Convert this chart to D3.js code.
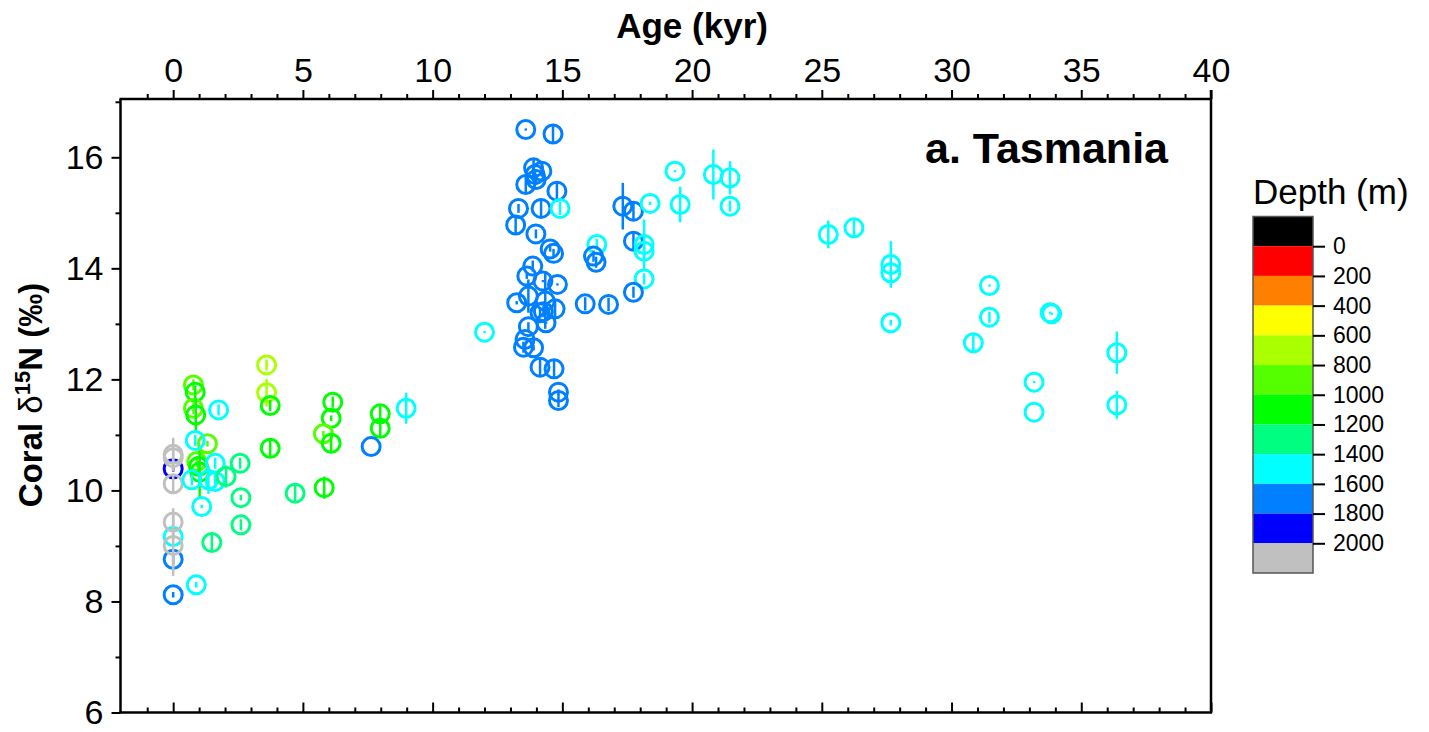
<!DOCTYPE html>
<html><head><meta charset="utf-8">
<script src="https://cdn.jsdelivr.net/npm/d3@7"></script>
<style>body{margin:0;background:#fff;} svg{display:block;} text{font-family:Arial,"Liberation Sans",sans-serif;}</style>
</head><body>
<svg id="chart" width="1429" height="732"></svg>
<script>
// ---- data ----
const ages = [
 0,0,0,0,0,0,0,0,0,
 0.78,0.85,0.78,0.87,0.91,0.98,1.02,1.32,
 1.75,0.85,0.72,1.62,1.36,1.62,1.1,0.89,
 2.04,2.58,2.61,2.61,1.49,4.7,
 3.6,3.6,3.74,3.74,6.15,6.09,5.79,6.09,5.82,7.98,7.98,7.63,8.98,
 12.0,
 13.59,14.64,13.89,14.21,13.95,13.59,13.99,14.79,13.31,14.18,
 14.91,13.2,13.98,14.53,14.66,13.86,13.63,14.25,14.81,13.69,
 13.24,14.34,14.72,14.14,14.27,14.37,13.69,13.56,13.5,13.89,
 14.14,14.68,14.85,14.85,
 17.33,17.74,18.38,17.74,18.15,18.15,18.15,17.74,16.33,16.2,16.3,15.88,16.78,
 19.34,20.82,21.46,21.46,19.54,
 25.25,26.24,27.66,27.66,27.66,31.46,31.46,33.8,33.86,30.84,33.18,33.18,36.37,36.37
];
const d15N = [
 10.39,9.17,8.76,8.12,10.65,10.59,10.12,9.43,9.01,
 11.9,11.77,11.48,11.36,10.52,10.43,10.33,10.84,
 11.45,10.9,10.19,10.49,10.19,10.16,9.71,8.3,
 10.25,10.49,9.87,9.38,9.06,9.95,
 12.26,11.76,11.53,10.76,11.59,11.3,11.02,10.85,10.05,11.38,11.12,10.79,11.48,
 12.85,
 16.5,16.42,15.81,15.75,15.69,15.51,15.6,15.39,15.08,15.08,
 15.08,14.78,14.62,14.35,14.27,14.04,13.86,13.77,13.71,13.5,
 13.38,13.41,13.27,13.2,13.22,13.02,12.95,12.72,12.58,12.57,
 12.22,12.19,11.77,11.62,
 15.12,15.03,15.17,14.49,14.43,14.31,13.81,13.57,14.43,14.22,14.11,13.36,13.35,
 15.75,15.69,15.63,15.12,15.15,
 14.61,14.73,14.07,13.92,13.02,13.69,13.12,13.2,13.18,12.66,11.95,11.41,12.48,11.54
];
const depths = [
 1900,1500,1700,1700,2100,2100,2100,2100,2100,
 900,1100,900,1100,900,1100,1100,900,
 1500,1500,1500,1500,1500,1500,1500,1500,
 1300,1300,1300,1300,1300,1300,
 700,700,1100,1100,1100,1100,900,1100,1100,1100,1100,1700,1500,
 1500,
 1700,1700,1700,1700,1700,1700,1700,1700,1700,1700,
 1500,1700,1700,1700,1700,1700,1700,1700,1700,1700,
 1700,1700,1700,1700,1700,1700,1700,1700,1700,1700,
 1700,1700,1700,1700,
 1700,1700,1500,1700,1500,1500,1500,1700,1500,1700,1700,1700,1700,
 1500,1500,1500,1500,1500,
 1500,1500,1500,1500,1500,1500,1500,1500,1500,1500,1500,1500,1500,1500
];
const errs = [
 0.05,0.05,0.1,0.05,0.3,0.1,0.15,0.25,0.55,
 0.1,0.12,0.1,0.3,0.1,0.1,0.45,0.05,
 0.1,0.1,0.1,0.1,0.25,0.12,0.03,0.05,
 0.2,0.1,0.05,0.1,0.15,0.15,
 0.1,0.25,0.1,0.15,0.1,0.05,0.05,0.15,0.2,0.16,0.16,0.0,0.28,
 0.02,
 0.02,0.15,0.15,0.1,0.1,0.15,0.1,0.16,0.08,0.16,
 0.12,0.16,0.08,0.05,0.08,0.1,0.05,0.02,0.02,0.3,
 0.03,0.5,0.15,0.1,0.1,0.02,0.08,0.02,0.1,0.05,
 0.16,0.16,0.05,0.12,
 0.42,0.16,0.03,0.16,0.45,0.1,0.1,0.1,0.1,0.1,0.1,0.12,0.12,
 0.02,0.45,0.3,0.1,0.32,
 0.25,0.16,0.42,0.05,0.05,0.02,0.1,0.02,0.02,0.16,0.02,0.0,0.38,0.25
];
const xTicks = [0,5,10,15,20,25,30,35,40];
const yTicks = [6,8,10,12,14,16];
const depthBreaks = [0,200,400,600,800,1000,1200,1400,1600,1800,2000];
const depthColors = ["#000000","#FF0000","#FF8000","#FFFF00","#AAFF00","#55FF00","#00FF00","#00FF80","#00FFFF","#0080FF","#0000FF","#C0C0C0"];

// ---- layout ----
const svg = d3.select("#chart");
const L = 120.5, R = 1211, T = 99, B = 712.5;
const x = d3.scaleLinear().domain([-2.03, 40]).range([L, R]);
const y = d3.scaleLinear().domain([6, 17.05]).range([B, T]);
const color = d3.scaleThreshold().domain(depthBreaks).range(depthColors);

const data = ages.map((a,i)=>({a, v:d15N[i], d:depths[i], e:errs[i]}));

// points
const g = svg.append("g");
data.forEach(p => {
  const c = color(p.d);
  if (p.e > 0) {
    g.append("line").attr("x1", x(p.a)).attr("x2", x(p.a))
      .attr("y1", y(p.v - p.e)).attr("y2", y(p.v + p.e))
      .attr("stroke", c).attr("stroke-width", 2.5);
  }
  g.append("circle").attr("cx", x(p.a)).attr("cy", y(p.v)).attr("r", 9)
    .attr("fill", "none").attr("stroke", c).attr("stroke-width", 3);
});

// axes
const fontTick = "34px";
const minorX = d3.range(-1, 41, 1).filter(v => v % 5 !== 0);
const minorY = d3.range(7, 17.01, 2);

const axTop = svg.append("g").attr("transform", `translate(0,${T})`)
  .call(d3.axisTop(x).tickValues(xTicks).tickSize(9).tickPadding(8).tickFormat(d3.format("d")));
const axTopMinor = svg.append("g").attr("transform", `translate(0,${T})`)
  .call(d3.axisTop(x).tickValues(minorX).tickSize(5).tickFormat(""));
const axBot = svg.append("g").attr("transform", `translate(0,${B})`)
  .call(d3.axisBottom(x).tickValues(xTicks).tickSize(-10).tickFormat(""));
const axBotMinor = svg.append("g").attr("transform", `translate(0,${B})`)
  .call(d3.axisBottom(x).tickValues(minorX).tickSize(-5).tickFormat(""));
const axLeft = svg.append("g").attr("transform", `translate(${L},0)`)
  .call(d3.axisLeft(y).tickValues(yTicks).tickSize(9).tickPadding(8).tickFormat(d3.format("d")));
const axLeftMinor = svg.append("g").attr("transform", `translate(${L},0)`)
  .call(d3.axisLeft(y).tickValues(minorY).tickSize(5).tickFormat(""));

const axes = [axTop, axTopMinor, axBot, axBotMinor, axLeft, axLeftMinor];
axes.forEach(a => {
  a.select(".domain").remove();
  a.selectAll(".tick line").attr("stroke", "#000").attr("stroke-width", 2);
  a.selectAll(".tick text").attr("fill", "#000").style("font-size", fontTick)
   .style("font-family", "Arial, 'Liberation Sans', sans-serif");
});
svg.append("g").selectAll("line").data([
  [L-1, T, R+1, T], [L-1, B, R+1, B], [L, T, L, B], [R, T-9, R, B]
]).join("line").attr("x1", d=>d[0]).attr("y1", d=>d[1]).attr("x2", d=>d[2]).attr("y2", d=>d[3])
  .attr("stroke", "#000").attr("stroke-width", 2.5);

// axis titles
svg.append("text").attr("x", x(20)).attr("y", 38).attr("text-anchor", "middle")
  .style("font-size", "35px").style("font-weight", "bold").text("Age (kyr)");
const yl = svg.append("text").attr("transform", `translate(42,395) rotate(-90)`)
  .attr("text-anchor", "middle").style("font-size", "33px").style("font-weight", "bold");
yl.append("tspan").text("Coral ");
yl.append("tspan").style("font-weight", "normal").text("δ");
yl.append("tspan").attr("dy", -12).style("font-size", "22px").text("15");
yl.append("tspan").attr("dy", 12).text("N (‰)");

// panel label
svg.append("text").attr("x", 1168).attr("y", 163).attr("text-anchor", "end")
  .style("font-size", "43px").style("font-weight", "bold").text("a. Tasmania");

// colour bar legend
const cbX = 1253, cbW = 60;
const cy = d3.scaleLinear().domain([-200, 2200]).range([216.5, 573]);
const bands = depthColors.map((c, i) => ({c, lo: i === 0 ? -200 : depthBreaks[i-1], hi: i < depthBreaks.length ? depthBreaks[i] : 2200}));
const leg = svg.append("g");
leg.selectAll("rect.band").data(bands).join("rect").attr("class","band")
  .attr("x", cbX).attr("width", cbW).attr("y", d => cy(d.lo)).attr("height", d => cy(d.hi) - cy(d.lo))
  .attr("fill", d => d.c);
leg.append("rect").attr("x", cbX).attr("y", cy(-200)).attr("width", cbW).attr("height", cy(2200)-cy(-200))
  .attr("fill", "none").attr("stroke", "#555").attr("stroke-width", 1.5);
const lax = leg.append("g").attr("transform", `translate(${cbX+cbW},0)`)
  .call(d3.axisRight(cy).tickValues(depthBreaks).tickSize(12).tickPadding(8).tickFormat(d3.format("d")));
lax.select(".domain").remove();
lax.selectAll(".tick line").attr("stroke", "#000").attr("stroke-width", 2);
lax.selectAll(".tick text").attr("fill", "#000").style("font-size", "23px")
  .style("font-family", "Arial, 'Liberation Sans', sans-serif");
svg.append("text").attr("x", 1253).attr("y", 204).style("font-size", "35px").text("Depth (m)");
</script>
</body></html>
